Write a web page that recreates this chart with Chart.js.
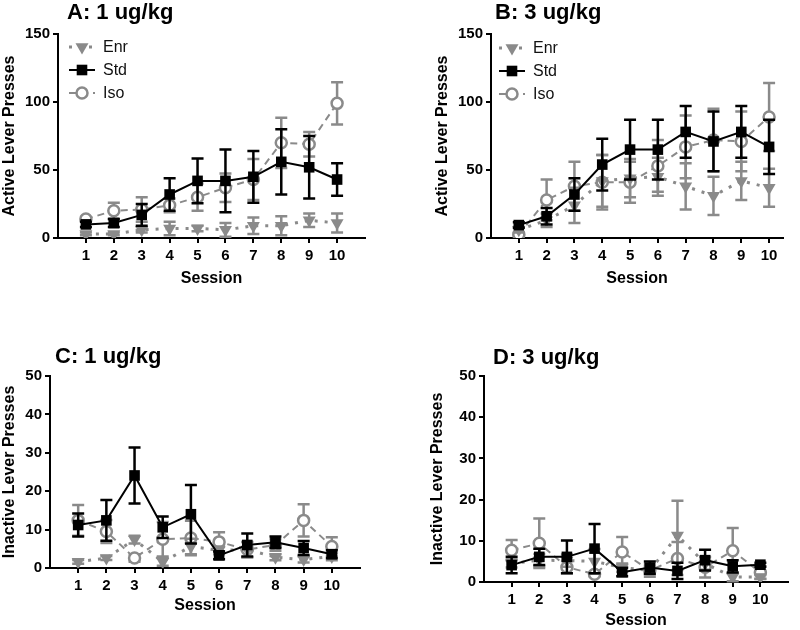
<!DOCTYPE html>
<html>
<head>
<meta charset="utf-8">
<script src="https://cdn.jsdelivr.net/npm/chart.js@4.4.1/dist/chart.umd.min.js"></script>
<style>
	html, body { margin: 0; padding: 0; background: #fff; }
	#page { position: relative; width: 800px; height: 630px; overflow: hidden; }
	canvas { position: absolute; }
</style>
</head>
<body>
<div id="page">
	<canvas id="chartA" width="380" height="292" style="left:0px;top:0px"></canvas>
	<canvas id="chartB" width="362" height="292" style="left:433px;top:0px"></canvas>
	<canvas id="chartC" width="375" height="289" style="left:0px;top:330px"></canvas>
	<canvas id="chartD" width="368" height="300" style="left:428px;top:330px"></canvas>
</div>
<script>
//______ Data (mean and error per session)

var sessions = [1, 2, 3, 4, 5, 6, 7, 8, 9, 10];
var seriesNames = ['Enr', 'Std', 'Iso'];

// A: active lever, 1 ug/kg
var activeEnr1 = [3, 3, 6, 7, 7, 6, 9, 9, 13, 11];
var activeEnrErr1 = [1, 1, 2, 5, 2, 5, 6, 7, 5, 7];
var activeStd1 = [10, 11, 17, 32, 42, 42, 45, 56, 52, 43];
var activeStdErr1 = [2, 3, 8, 12, 16.5, 23, 19, 24, 23, 12];
var activeIso1 = [14, 20, 21, 24, 30, 37, 43, 70, 69, 99];
var activeIsoErr1 = [1.5, 6, 9, 5, 10, 10.5, 15, 18.5, 9, 15.5];

// B: active lever, 3 ug/kg
var activeEnr3 = [6, 13, 24, 42, 44, 45, 38, 31, 42, 37];
var activeEnrErr3 = [2, 5, 13, 19, 14, 14, 17, 14, 14, 14];
var activeStd3 = [9.5, 16, 32, 54, 65, 65, 78, 71, 78, 67];
var activeStdErr3 = [2, 6, 12, 19, 22, 22, 19, 22, 19, 20];
var activeIso3 = [2.5, 28, 38, 41, 41, 53, 67, 72, 71, 89];
var activeIsoErr3 = [1, 15, 18, 20, 15, 19, 23, 23, 22, 25];

// C: inactive lever, 1 ug/kg
var inactiveEnr1 = [1.6, 2.6, 7.4, 1.6, 5.6, 4.6, 4.8, 2.8, 2.2, 3];
var inactiveEnrErr1 = [0.5, 0.5, 1, 1, 2, 1, 2, 0.8, 0.8, 1];
var inactiveStd1 = [11.2, 12.4, 24.1, 10.6, 14, 3.3, 6, 6.7, 5.2, 3.6];
var inactiveStdErr1 = [3, 5.3, 7.3, 2.8, 7.6, 1, 3, 1.5, 1.8, 1];
var inactiveIso1 = [12.4, 9.5, 2.6, 7.5, 7.8, 6.8, 4.8, 6, 12.4, 5.6];
var inactiveIsoErr1 = [4, 3, 1, 4.5, 4.5, 2.5, 2, 1.5, 4.2, 2.4];

// D: inactive lever, 3 ug/kg
var inactiveEnr3 = [4.5, 5.3, 5.2, 5, 3.5, 2.8, 11.3, 4.5, 1.2, 1.2];
var inactiveEnrErr3 = [1, 1.5, 1.5, 3, 1, 1, 8.4, 1.5, 1, 0.5];
var inactiveStd3 = [4.1, 6.1, 6.1, 8.1, 2.4, 3.5, 2.7, 5.3, 3.8, 4.2];
var inactiveStdErr3 = [2, 2, 4, 6, 1, 1.5, 2, 2.5, 1.5, 0.5];
var inactiveIso3 = [7.7, 9.4, 3.6, 1.9, 7.3, 2.8, 5.7, 3.6, 7.6, 2.3];
var inactiveIsoErr3 = [2.5, 6, 1.5, 0.5, 3.6, 1.5, 4, 2.5, 5.5, 1.5];

var GRAY = '#8a8a8a';
var FONT = "'Liberation Sans', Arial, Helvetica, sans-serif";

Chart.defaults.font.family = FONT;
Chart.defaults.color = '#000';

//______ Plugins: error bars, panel title and legend

var errorBars = {
	id: 'errorBars',
	beforeDatasetDraw: function(chart, args) {
		var ds = chart.data.datasets[args.index];
		if(!ds.errors) return;

		var ctx = chart.ctx;
		var xScale = chart.scales.x;
		var yScale = chart.scales.y;

		ctx.save();
		ctx.strokeStyle = ds.borderColor;
		ctx.lineWidth = 2.5;
		ctx.setLineDash([]);
		ds.data.forEach((p, i) => {
			var err = ds.errors[i];
			var x = xScale.getPixelForValue(p.x);
			var top = yScale.getPixelForValue(p.y + err);
			var bottom = yScale.getPixelForValue(Math.max(p.y - err, 0));
			ctx.beginPath();
			ctx.moveTo(x, top); ctx.lineTo(x, bottom);
			ctx.moveTo(x - 6, top); ctx.lineTo(x + 6, top);
			ctx.moveTo(x - 6, bottom); ctx.lineTo(x + 6, bottom);
			ctx.stroke();
		});
		ctx.restore();
	}
};

function drawMarker(ctx, ds, x, y) {
	ctx.save();
	ctx.fillStyle = ds.backgroundColor;
	ctx.strokeStyle = ds.borderColor;
	ctx.lineWidth = ds.pointBorderWidth || 1;
	ctx.setLineDash([]);
	ctx.beginPath();
	if(ds.pointStyle == 'triangle') {
		var r = ds.pointRadius;
		ctx.moveTo(x, y + r);
		ctx.lineTo(x - r * 0.866, y - r * 0.5);
		ctx.lineTo(x + r * 0.866, y - r * 0.5);
		ctx.closePath();
		ctx.fill();
	} else if(ds.pointStyle == 'rect') {
		var s = ds.pointRadius * Math.SQRT1_2;
		ctx.rect(x - s, y - s, 2 * s, 2 * s);
		ctx.fill();
	} else {
		ctx.arc(x, y, ds.pointRadius, 0, Math.PI * 2);
		ctx.fill();
		ctx.stroke();
	}
	ctx.restore();
}

var panelDecor = {
	id: 'panelDecor',
	afterDraw: function(chart, args, opts) {
		var ctx = chart.ctx;
		var area = chart.chartArea;

		ctx.save();
		ctx.fillStyle = '#000';
		ctx.font = 'bold 22px ' + FONT;
		ctx.textBaseline = 'middle';
		ctx.textAlign = 'left';
		ctx.fillText(opts.title, area.left + opts.titleDx, area.top + opts.titleDy);

		if(opts.legend) {
			chart.data.datasets.forEach((ds, i) => {
				var mx = area.left + opts.legendDx;
				var my = area.top + opts.legendDy + i * 23;

				ctx.save();
				ctx.strokeStyle = ds.borderColor;
				ctx.lineWidth = ds.borderWidth;
				ctx.setLineDash(ds.borderDash || []);
				ctx.beginPath();
				ctx.moveTo(mx - 13, my);
				ctx.lineTo(mx + 13, my);
				ctx.stroke();
				ctx.restore();

				drawMarker(ctx, ds, mx, my);

				ctx.fillStyle = '#111';
				ctx.font = '16px ' + FONT;
				ctx.fillText(ds.label, mx + 21, my + 1);
			});
		}
		ctx.restore();
	}
};

//______ Series and panels

function makeSeries(name, values, errors) {
	var ds = {
		label: name,
		data: sessions.map((s, i) => ({x: s, y: values[i]})),
		errors: errors,
		fill: false,
		tension: 0
	};

	if(name == 'Enr') {
		ds.borderColor = GRAY;
		ds.backgroundColor = GRAY;
		ds.borderWidth = 3;
		ds.borderDash = [3, 7];
		ds.pointStyle = 'triangle';
		ds.pointRotation = 180;
		ds.pointRadius = 7.5;
		ds.pointBorderWidth = 0;
		ds.order = 1;
	} else if(name == 'Std') {
		ds.borderColor = '#000';
		ds.backgroundColor = '#000';
		ds.borderWidth = 2;
		ds.pointStyle = 'rect';
		ds.pointRadius = 7.5;
		ds.pointBorderWidth = 0;
		ds.order = 0;
	} else {
		ds.borderColor = GRAY;
		ds.backgroundColor = '#fff';
		ds.borderWidth = 2;
		ds.borderDash = [7, 5];
		ds.pointStyle = 'circle';
		ds.pointRadius = 5.5;
		ds.pointBorderWidth = 2.5;
		ds.order = 2;
	}
	ds.pointBackgroundColor = ds.backgroundColor;
	ds.pointBorderColor = ds.borderColor;
	ds.pointHoverRadius = ds.pointRadius;
	return ds;
}

// only the session numbers get a tick and a label
function keepSessions(scale) {
	scale.ticks = sessions.map(v => ({value: v}));
}

function makePanel(canvasId, title, yTitle, yMax, yStep, enr, enrErr, std, stdErr, iso, isoErr, layout) {
	var datasets = [
		makeSeries(seriesNames[0], enr, enrErr),
		makeSeries(seriesNames[1], std, stdErr),
		makeSeries(seriesNames[2], iso, isoErr)
	];

	var axisLine = {display: true, color: '#000', width: 2};
	var tickMarks = {display: true, drawOnChartArea: false, drawTicks: true, tickLength: 5, color: '#000', lineWidth: 2};

	return new Chart(document.getElementById(canvasId), {
		type: 'line',
		data: {datasets: datasets},
		options: {
			responsive: false,
			animation: false,
			layout: {padding: {top: layout.padTop, right: layout.padRight, left: 0, bottom: 0}},
			plugins: {
				legend: {display: false},
				tooltip: {enabled: false},
				panelDecor: {
					title: title,
					titleDx: layout.titleDx,
					titleDy: layout.titleDy,
					legend: layout.legend,
					legendDx: layout.legendDx,
					legendDy: layout.legendDy
				}
			},
			scales: {
				x: {
					type: 'linear',
					min: 0,
					max: layout.xMax,
					afterBuildTicks: keepSessions,
					afterFit: function(s) { s.height = layout.xHeight; },
					ticks: {stepSize: 1, autoSkip: false, maxRotation: 0, padding: 4, font: {size: 15, weight: 'bold'}, color: '#000'},
					grid: tickMarks,
					border: axisLine,
					title: {display: true, text: 'Session', font: {size: 16, weight: 'bold'}, color: '#000', padding: {top: 0, bottom: layout.xTitlePad}}
				},
				y: {
					min: 0,
					max: yMax,
					afterFit: function(s) { s.width = layout.yWidth; },
					ticks: {stepSize: yStep, padding: 3, font: {size: 15, weight: 'bold'}, color: '#000'},
					grid: tickMarks,
					border: axisLine,
					title: {display: true, text: yTitle, font: {size: 16, weight: 'bold'}, color: '#000', padding: 0}
				}
			}
		},
		plugins: [errorBars, panelDecor]
	});
}

makePanel('chartA', 'A: 1 ug/kg', 'Active Lever Presses', 150, 50,
	activeEnr1, activeEnrErr1, activeStd1, activeStdErr1, activeIso1, activeIsoErr1,
	{padTop: 34, padRight: 15, xMax: 11, xHeight: 54, yWidth: 58, xTitlePad: 4,
	 titleDx: 9, titleDy: -21, legend: true, legendDx: 24, legendDy: 13});

makePanel('chartB', 'B: 3 ug/kg', 'Active Lever Presses', 150, 50,
	activeEnr3, activeEnrErr3, activeStd3, activeStdErr3, activeIso3, activeIsoErr3,
	{padTop: 34, padRight: 12, xMax: 10.5, xHeight: 54, yWidth: 58, xTitlePad: 4,
	 titleDx: 4, titleDy: -21, legend: true, legendDx: 21, legendDy: 14});

makePanel('chartC', 'C: 1 ug/kg', 'Inactive Lever Presses', 50, 10,
	inactiveEnr1, inactiveEnrErr1, inactiveStd1, inactiveStdErr1, inactiveIso1, inactiveIsoErr1,
	{padTop: 46, padRight: 15, xMax: 11, xHeight: 51, yWidth: 50, xTitlePad: 4,
	 titleDx: 5, titleDy: -19, legend: false});

makePanel('chartD', 'D: 3 ug/kg', 'Inactive Lever Presses', 50, 10,
	inactiveEnr3, inactiveEnrErr3, inactiveStd3, inactiveStdErr3, inactiveIso3, inactiveIsoErr3,
	{padTop: 46, padRight: 8, xMax: 11, xHeight: 48, yWidth: 56, xTitlePad: 0,
	 titleDx: 9, titleDy: -18, legend: false});
</script>
</body>
</html>
